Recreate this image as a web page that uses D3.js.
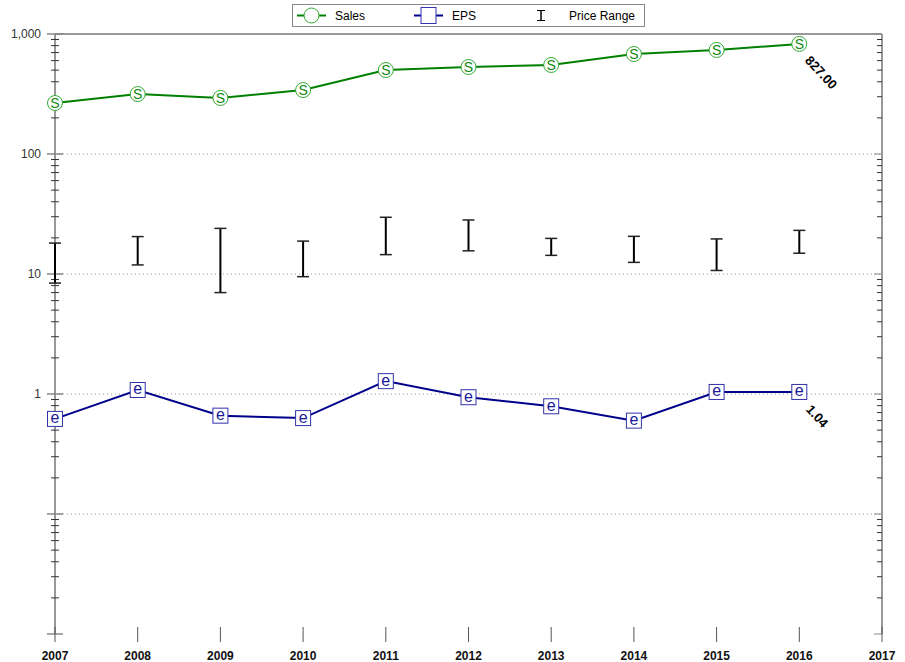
<!DOCTYPE html>
<html><head><meta charset="utf-8">
<script src="https://cdn.jsdelivr.net/npm/d3@7/dist/d3.min.js"></script>
<style>body{margin:0;background:#fff}svg{display:block;font-family:"Liberation Sans",Arial,sans-serif}</style>
</head><body><svg id="c" width="905" height="662"></svg>
<script>
const years = [2007,2008,2009,2010,2011,2012,2013,2014,2015,2016];
const sales = [266,316,293,341,501,531,552,681,736,827];
const eps = [0.62,1.08,0.66,0.63,1.28,0.94,0.79,0.60,1.04,1.04];
const priceHigh = [18.1,20.5,24.0,18.8,29.7,28.2,19.8,20.6,19.6,23.1];
const priceLow = [8.4,11.9,7.0,9.5,14.5,15.6,14.3,12.5,10.7,14.9];
const yTickVals = [1000,100,10,1,0.1,0.01];
const yTickLabels = ["1,000","100","10","1","",""];
const xTickVals = [2007,2008,2009,2010,2011,2012,2013,2014,2015,2016,2017];

const svg = d3.select("#c");
const L=55,R=882,T=34,B=634;
const x = d3.scaleLinear().domain([2007,2017]).range([L,R]);
const y = d3.scaleLog().domain([0.01,1000]).range([B,T]);

// gridlines
svg.append("g").selectAll("line").data([100,10,1,0.1]).join("line")
  .attr("x1",L).attr("x2",R).attr("y1",d=>y(d)).attr("y2",d=>y(d))
  .attr("stroke","#999").attr("stroke-dasharray","1,3").attr("stroke-width",1);

// top and right border
svg.append("line").attr("x1",L).attr("x2",R).attr("y1",T).attr("y2",T).attr("stroke","#999").attr("stroke-width",2);
svg.append("line").attr("x1",R).attr("x2",R).attr("y1",T).attr("y2",B).attr("stroke","#999").attr("stroke-width",2);

// minor tick values
const minors=[];
for(let e=-2;e<3;e++){for(let m=2;m<=9;m++){minors.push(m*Math.pow(10,e));}}

// right axis ticks (inside)
const rg=svg.append("g");
rg.selectAll("line.mi").data(minors).join("line").attr("class","mi")
  .attr("x1",R-5).attr("x2",R).attr("y1",d=>y(d)).attr("y2",d=>y(d)).attr("stroke","#333");
rg.selectAll("line.ma").data(yTickVals).join("line").attr("class","ma")
  .attr("x1",R-8).attr("x2",R).attr("y1",d=>y(d)).attr("y2",d=>y(d)).attr("stroke","#888");

// left axis
const lg=svg.append("g");
lg.append("line").attr("x1",L).attr("x2",L).attr("y1",T).attr("y2",B).attr("stroke","#333");
lg.selectAll("line.mi").data(minors).join("line").attr("class","mi")
  .attr("x1",L-4).attr("x2",L+4).attr("y1",d=>y(d)).attr("y2",d=>y(d)).attr("stroke","#333");
lg.selectAll("line.ma").data(yTickVals).join("line").attr("class","ma")
  .attr("x1",L-8).attr("x2",L+8).attr("y1",d=>y(d)).attr("y2",d=>y(d)).attr("stroke","#888").attr("stroke-width",1.5);
lg.selectAll("text").data(yTickVals).join("text")
  .attr("x",41).attr("y",d=>y(d)+4).attr("text-anchor","end").attr("font-size",12).attr("fill","#333")
  .text((d,i)=>yTickLabels[i]);

// bottom axis
const bg=svg.append("g");
bg.append("line").attr("x1",L).attr("x2",R).attr("y1",B).attr("y2",B).attr("stroke","#333");
bg.selectAll("line").data(xTickVals).join("line")
  .attr("x1",d=>x(d)).attr("x2",d=>x(d)).attr("y1",B-7).attr("y2",B+8).attr("stroke","#555");
bg.selectAll("text").data(xTickVals).join("text")
  .attr("x",d=>x(d)).attr("y",660).attr("text-anchor","middle").attr("font-size",12).attr("font-weight","bold").attr("fill","#111")
  .text(d=>d);

// price range bars
const pg=svg.append("g");
years.forEach((yr,i)=>{
  const cx=x(yr);
  pg.append("line").attr("x1",cx).attr("x2",cx).attr("y1",y(priceHigh[i])).attr("y2",y(priceLow[i])).attr("stroke","#000").attr("stroke-width",2);
  [priceHigh[i],priceLow[i]].forEach(v=>{
    pg.append("line").attr("x1",cx-6).attr("x2",cx+6).attr("y1",y(v)).attr("y2",y(v)).attr("stroke","#222").attr("stroke-width",1.5);
  });
});

// sales line
const line=d3.line().x((d,i)=>x(years[i])).y(d=>y(d));
svg.append("path").datum(sales).attr("d",line).attr("fill","none").attr("stroke","#008000").attr("stroke-width",2);
const sg=svg.append("g");
sg.selectAll("circle").data(sales).join("circle")
  .attr("cx",(d,i)=>x(years[i])).attr("cy",d=>y(d)).attr("r",7.5)
  .attr("fill","#fff").attr("stroke","#33aa33").attr("stroke-width",1);
sg.selectAll("text").data(sales).join("text")
  .attr("x",(d,i)=>x(years[i])).attr("y",d=>y(d)+5).attr("text-anchor","middle")
  .attr("font-size",14).attr("fill","#118811").text("S");

// eps line
svg.append("path").datum(eps).attr("d",line).attr("fill","none").attr("stroke","#00008b").attr("stroke-width",2);
const eg=svg.append("g");
eg.selectAll("rect").data(eps).join("rect")
  .attr("x",(d,i)=>x(years[i])-7.5).attr("y",d=>y(d)-7.5).attr("width",15).attr("height",15)
  .attr("fill","#fff").attr("stroke","#3333aa").attr("stroke-width",1);
eg.selectAll("text").data(eps).join("text")
  .attr("x",(d,i)=>x(years[i])).attr("y",d=>y(d)+4.5).attr("text-anchor","middle")
  .attr("font-size",16).attr("fill","#1a1a99").text("e");

// end annotations
const lastI=years.length-1;
svg.append("text").attr("transform",`translate(${x(years[lastI])+5},${y(sales[lastI])+17}) rotate(47)`)
  .attr("font-size",13).attr("font-weight","bold").attr("fill","#000").text(d3.format(".2f")(sales[lastI]));
svg.append("text").attr("transform",`translate(${x(years[lastI])+6},${y(eps[lastI])+18}) rotate(47)`)
  .attr("font-size",13).attr("font-weight","bold").attr("fill","#000").text(d3.format(".2f")(eps[lastI]));

// legend
const leg=svg.append("g");
leg.append("rect").attr("x",292.5).attr("y",4.5).attr("width",352).attr("height",22).attr("fill","#fff").attr("stroke","#888");
const ly=15.5;
leg.append("line").attr("x1",297).attr("x2",326).attr("y1",ly).attr("y2",ly).attr("stroke","#008000").attr("stroke-width",2);
leg.append("circle").attr("cx",311.5).attr("cy",ly).attr("r",7.5).attr("fill","#fff").attr("stroke","#33aa33");
leg.append("text").attr("x",335).attr("y",ly+4).attr("font-size",12).attr("fill","#000").text("Sales");
leg.append("line").attr("x1",414).attr("x2",443).attr("y1",ly).attr("y2",ly).attr("stroke","#00008b").attr("stroke-width",2);
leg.append("rect").attr("x",421).attr("y",ly-8).attr("width",15).attr("height",16).attr("fill","#fff").attr("stroke","#3333aa");
leg.append("text").attr("x",452).attr("y",ly+4).attr("font-size",12).attr("fill","#000").text("EPS");
leg.append("line").attr("x1",541).attr("x2",541).attr("y1",ly-5).attr("y2",ly+5).attr("stroke","#000").attr("stroke-width",1.5);
leg.append("line").attr("x1",537).attr("x2",545).attr("y1",ly-5).attr("y2",ly-5).attr("stroke","#000");
leg.append("line").attr("x1",537).attr("x2",545).attr("y1",ly+5).attr("y2",ly+5).attr("stroke","#000");
leg.append("text").attr("x",569).attr("y",ly+4).attr("font-size",12).attr("fill","#000").text("Price Range");
</script></body></html>
